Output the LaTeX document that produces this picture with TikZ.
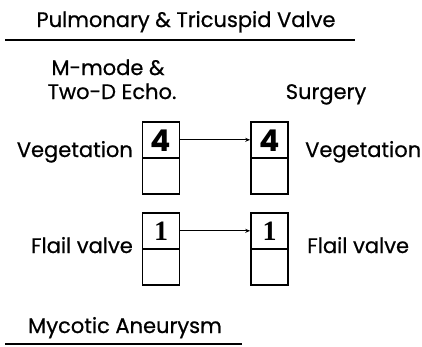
\documentclass[tikz,border=0pt]{standalone}
\usepackage{fontspec}
\setmainfont{Poppins}[UprightFeatures={FakeBold=0.6}]
\newfontfamily\numfont{Liberation Serif}
\usetikzlibrary{arrows.meta}
\begin{document}
\begin{tikzpicture}[x=1pt,y=-1pt,
  lbl/.style={inner sep=0pt,font=\fontsize{21}{24}\selectfont},
  cell/.style={draw,line width=1.6pt,minimum width=37pt,minimum height=36pt,inner sep=0pt},
  num/.style={inner sep=0pt,font=\fontsize{30}{32}\selectfont\bfseries},
  conn/.style={line width=1.2pt,-{Stealth[length=5pt,width=4pt]}},
  rule/.style={line width=1.5pt}]
\useasboundingbox (0,0) rectangle (422,346);
% title
\node[lbl,anchor=base] (title) at (186,27) {Pulmonary \& Tricuspid Valve};
\coordinate (t1) at (5,40); \coordinate (t2) at (355,40);
\draw[rule] (t1) -- (t2);
% column headings
\node[lbl,anchor=base] (mmode) at (108,75) {M-mode \&};
\node[lbl,anchor=base] (twod) at (112,99) {Two-D Echo.};
\node[lbl,anchor=base] (surg) at (326,99) {Surgery};
% vegetation row
\node[cell,anchor=north] (v1t) at (161,121) {};
\node[cell,anchor=north] (v1b) at (161,157) {};
\node[cell,anchor=north] (v2t) at (269.5,121) {};
\node[cell,anchor=north] (v2b) at (269.5,157) {};
\node[num] (v1n) at ([yshift=-1pt]v1t.center) {4};
\node[num] (v2n) at ([yshift=-1pt]v2t.center) {4};
\draw[conn] (v1t.east) -- (v2t.west);
\node[lbl,anchor=base east] (vl) at (133,157) {Vegetation};
\node[lbl,anchor=base west] (vr) at (305,157) {Vegetation};
% flail valve row
\node[cell,anchor=north] (f1t) at (161,212) {};
\node[cell,anchor=north] (f1b) at (161,248) {};
\node[cell,anchor=north] (f2t) at (269.5,212) {};
\node[cell,anchor=north] (f2b) at (269.5,248) {};
\node[num,font=\fontsize{28}{30}\selectfont\numfont\bfseries] (f1n) at (f1t.center) {1};
\node[num,font=\fontsize{28}{30}\selectfont\numfont\bfseries] (f2n) at (f2t.center) {1};
\draw[conn] (f1t.east) -- (f2t.west);
\node[lbl,anchor=base east] (fl) at (133,253) {Flail valve};
\node[lbl,anchor=base west] (fr) at (307,253) {Flail valve};
% mycotic aneurysm
\node[lbl,anchor=base west] (myc) at (28,333) {Mycotic Aneurysm};
\coordinate (m1) at (5,344); \coordinate (m2) at (242,344);
\draw[rule] (m1) -- (m2);
\end{tikzpicture}
\end{document}
